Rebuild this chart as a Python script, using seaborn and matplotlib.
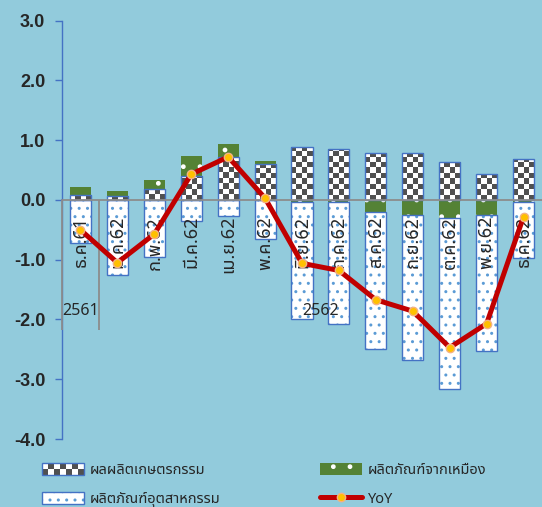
import numpy as np
import matplotlib
matplotlib.use('Agg')
import matplotlib.pyplot as plt
import seaborn as sns
from matplotlib.patches import Patch, Rectangle
from matplotlib.lines import Line2D
from matplotlib.legend_handler import HandlerBase
from matplotlib.colors import ListedColormap, to_rgba

# data (contribution to YoY, %)
months = ['ธ.ค.61', 'ม.ค.62', 'ก.พ.62', 'มี.ค.62', 'เม.ย.62', 'พ.ค.62', 'มิ.ย.62',
          'ก.ค.62', 'ส.ค.62', 'ก.ย.62', 'ต.ค.62', 'พ.ย.62', 'ธ.ค.62']
years = ['2561', '2562']
year_sizes = [1, 12]
agri = [0.08, 0.07, 0.18, 0.40, 0.72, 0.60, 0.89, 0.86, 0.78, 0.78, 0.63, 0.43, 0.69]
mining = [0.13, 0.08, 0.15, 0.33, 0.21, 0.05, -0.04, -0.03, -0.20, -0.25, -0.30, -0.25, -0.03]
industry = [-0.72, -1.26, -0.95, -0.35, -0.26, -0.66, -1.96, -2.04, -2.30, -2.42, -2.86, -2.28, -0.94]
yoy = [-0.50, -1.05, -0.57, 0.43, 0.72, 0.03, -1.06, -1.18, -1.67, -1.86, -2.47, -2.07, -0.28]
names = ['ผลผลิตเกษตรกรรม', 'ผลิตภัณฑ์จากเหมือง', 'ผลิตภัณฑ์อุตสาหกรรม', 'YoY']

bg = '#92CBDC'
blue = '#4472C4'
dotblue = '#5B9BD5'
green = '#548235'
dark = '#505050'
red = '#C00000'
grey = '#8C8C8C'

sns.set_style('white')
plt.rcParams['font.family'] = ['Noto Sans Thai', 'DejaVu Sans']
plt.rcParams['hatch.linewidth'] = 1.0

fig = plt.figure(figsize=(5.42, 5.07), dpi=100)
fig.patch.set_facecolor(bg)
ax = fig.add_axes([62 / 542, 1 - 439 / 507, 1 - 62 / 542, (439 - 20.7) / 507])
ax.set_facecolor(bg)

# stacking like excel: positives up from 0, negatives down from 0
pos_base = np.zeros(len(months))
neg_base = np.zeros(len(months))
bottoms = []
for series in [agri, mining, industry]:
    v = np.array(series)
    b = np.where(v >= 0, pos_base, neg_base)
    bottoms.append(b)
    pos_base = pos_base + np.clip(v, 0, None)
    neg_base = neg_base + np.clip(v, None, 0)

bw = 0.57
# agriculture (checker)
sns.barplot(x=months, y=agri, bottom=bottoms[0], width=bw, color='white', saturation=1,
            edgecolor=blue, linewidth=1.0, errorbar=None, ax=ax, zorder=1)
agri_bars = list(ax.containers[-1])
# mining
sns.barplot(x=months, y=mining, bottom=bottoms[1], width=bw, color=green, saturation=1,
            edgecolor='white', linewidth=0, hatch='.', errorbar=None, ax=ax, zorder=1)
# industry
sns.barplot(x=months, y=industry, bottom=bottoms[2], width=bw, color='white', saturation=1,
            edgecolor=blue, linewidth=1.0, hatch='..', errorbar=None, ax=ax, zorder=1)
for r in ax.containers[-1]:
    r._hatch_color = to_rgba(dotblue)

# checker texture inside the agriculture bars
cmap = ListedColormap(['white', dark])
cell = 0.09
for r in agri_bars:
    x0, y0, w, h = r.get_x(), r.get_y(), r.get_width(), r.get_height()
    ny = max(1, int(np.ceil(h / cell)))
    grid = (np.add.outer(np.arange(ny), np.arange(4)) % 2)[::-1]
    im = ax.imshow(grid, cmap=cmap, extent=[x0, x0 + w, y0, y0 + ny * cell],
                   interpolation='nearest', aspect='auto', zorder=1.1)
    im.set_clip_path(r)
    r.set_facecolor('none')
    r.set_zorder(1.2)

sns.lineplot(x=np.arange(len(months)), y=yoy, color=red, linewidth=3.6, marker='o',
             markersize=6, markerfacecolor='#FFC000', markeredgecolor='#F4B183',
             markeredgewidth=1, ax=ax, zorder=5)

ax.set_xlim(-0.5, len(months) - 0.5)
ax.set_ylim(-4, 3)
ax.set_yticks(np.arange(-4, 4))
ax.set_yticklabels([f'{v:.1f}' for v in np.arange(-4, 4)], fontweight='bold',
                   fontsize=13, family=['Liberation Sans'])
ax.tick_params(axis='y', left=True, direction='out', length=5, width=1, color=blue, pad=7)
ax.tick_params(axis='x', bottom=False, length=0, pad=11.5, labelsize=13, labelrotation=90)
for lbl in ax.get_xticklabels():
    lbl.set_rotation_mode('anchor')
    lbl.set_ha('right')
    lbl.set_va('center')
ax.set_xlabel('')
ax.set_ylabel('')
for s in ['top', 'right']:
    ax.spines[s].set_visible(False)
ax.spines['left'].set_color(blue)
ax.spines['left'].set_linewidth(1.0)
ax.spines['bottom'].set_position(('data', 0))
ax.spines['bottom'].set_color(grey)
ax.spines['bottom'].set_linewidth(1.3)
ax.set_axisbelow(False)

# year groups
edges = np.concatenate([[0], np.cumsum(year_sizes)]) - 0.5
ax.vlines(edges[:-1], -2.17, 0, color=grey, linewidth=1.3, zorder=3, clip_on=False)
for i, yr in enumerate(years):
    ax.text((edges[i] + edges[i + 1]) / 2, -1.86, yr, ha='center', va='center', fontsize=11.5)


class CheckerHandler(HandlerBase):
    def create_artists(self, legend, orig_handle, xdescent, ydescent, width, height, fontsize, trans):
        arts = []
        nx, ny = 7, 2
        cw, ch = width / nx, height / ny
        for i in range(nx):
            for j in range(ny):
                c = dark if (i + j) % 2 == 0 else 'white'
                arts.append(Rectangle((-xdescent + i * cw, -ydescent + j * ch), cw, ch,
                                      facecolor=c, edgecolor='none', transform=trans))
        arts.append(Rectangle((-xdescent, -ydescent), width, height, facecolor='none',
                              edgecolor=blue, linewidth=1.0, transform=trans))
        return arts


h_agri = Patch(facecolor='white', edgecolor=blue)
h_ind = Patch(facecolor='white', edgecolor=blue, hatch='..', linewidth=1.0)
h_ind._hatch_color = to_rgba(dotblue)
h_min = Patch(facecolor=green, edgecolor='white', hatch='.', linewidth=0)
h_yoy = Line2D([], [], color=red, linewidth=3.6, marker='o', markersize=6,
               markerfacecolor='#FFC000', markeredgecolor='#F4B183')
fig.legend([h_agri, h_ind, h_min, h_yoy], [names[0], names[2], names[1], names[3]],
           handler_map={h_agri: CheckerHandler()}, ncol=2, frameon=False,
           loc='upper left', bbox_to_anchor=(42 / 542, 1 - 463 / 507),
           borderpad=0, borderaxespad=0, fontsize=10.5, handlelength=2.9,
           handleheight=0.85, handletextpad=0.4, columnspacing=6.8, labelspacing=0.95)

fig.savefig('out.png', dpi=100, facecolor=bg)
